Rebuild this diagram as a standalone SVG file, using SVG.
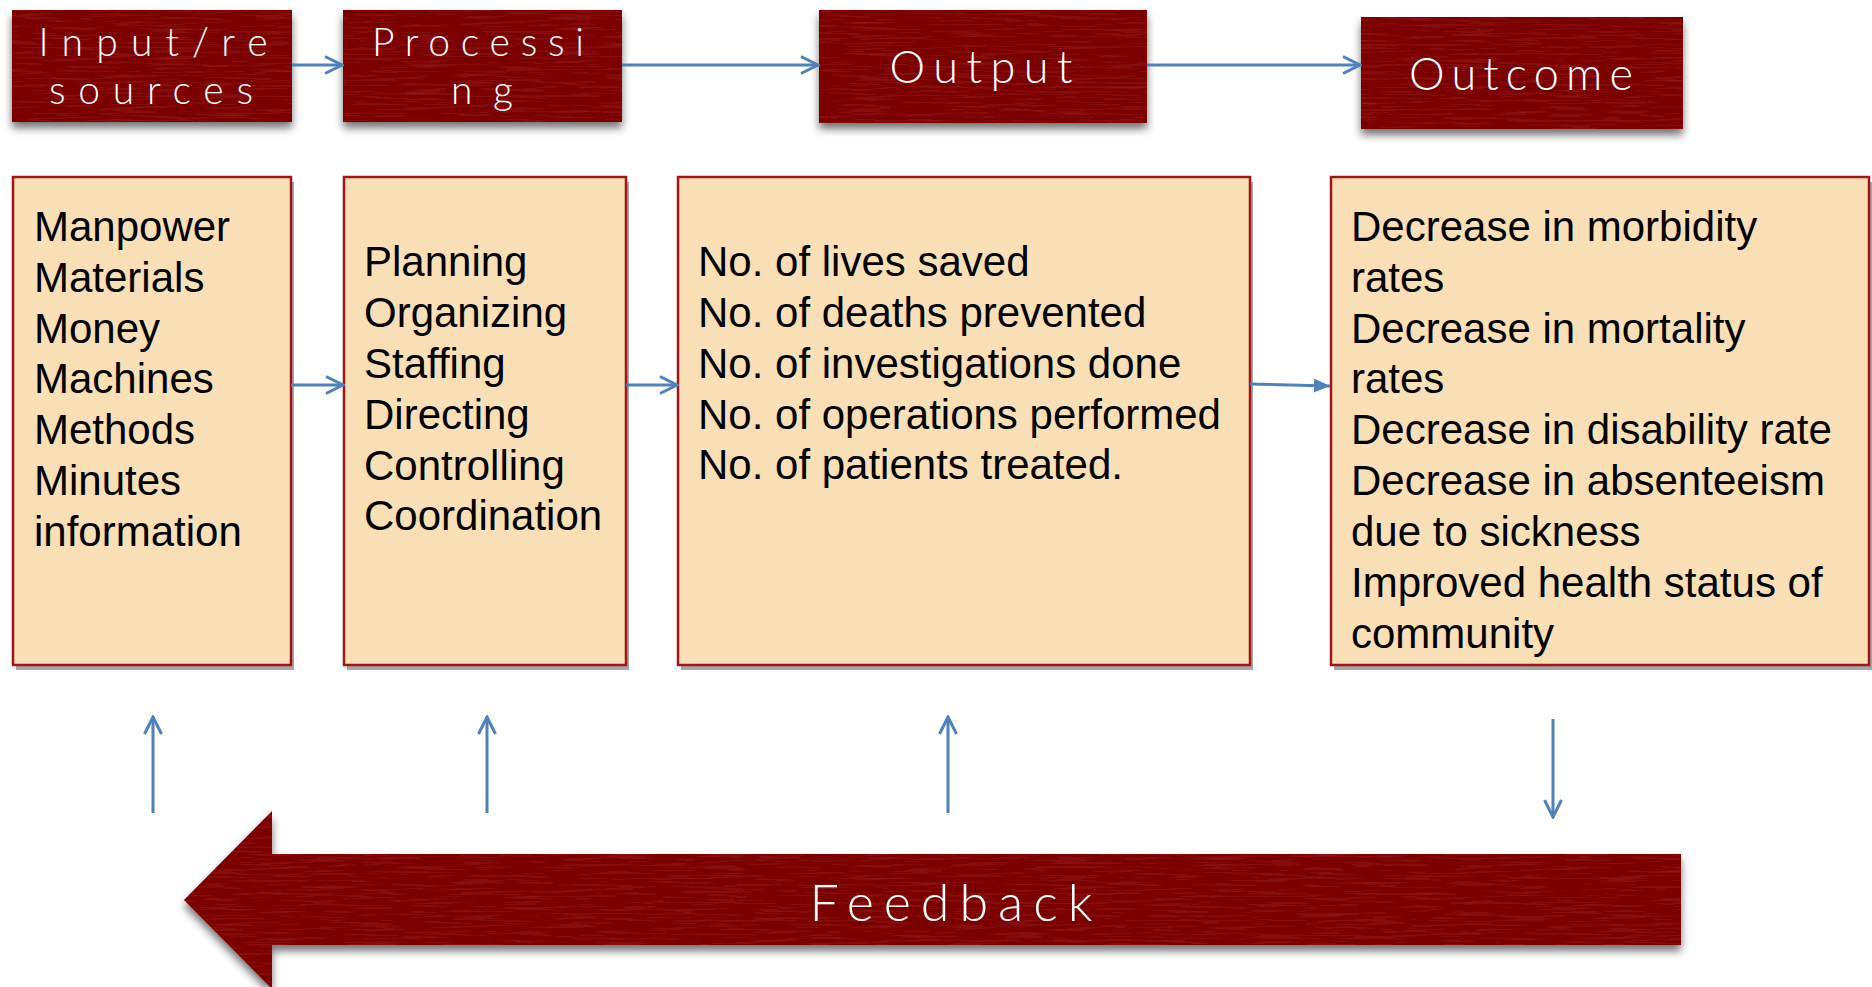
<svg xmlns="http://www.w3.org/2000/svg" width="1872" height="987" viewBox="0 0 1872 987">
  <style>
    .plate { fill: #7a0202; }
    .plate-label { font-family: "Lato", "Open Sans", "Liberation Sans", sans-serif; font-weight: 300; font-size: 45px; fill: #ffffff; text-anchor: middle; }
    .two-line { font-size: 39px; }
    .card { fill: #f9dfb6; stroke: #a0141a; stroke-width: 2.5; }
    .card-shadow { fill: #a6a6a6; }
    .item { font-family: "Liberation Sans", Arial, sans-serif; font-size: 42px; fill: #000000; }
    .link { stroke: #4f81bd; stroke-width: 3; fill: none; }
  </style>
  <defs>
    <!-- soft drop shadow plus faint horizontal grain for the maroon plates -->
    <filter id="plateFx" x="-10%" y="-20%" width="120%" height="160%">
      <feGaussianBlur in="SourceAlpha" stdDeviation="4"/>
      <feOffset dy="6" result="blur"/>
      <feFlood flood-color="#000000" flood-opacity="0.55"/>
      <feComposite in2="blur" operator="in" result="shadow"/>
      <feTurbulence type="fractalNoise" baseFrequency="0.02 0.45" numOctaves="2" seed="7" result="noise"/>
      <feColorMatrix in="noise" type="matrix" values="0 0 0 0 0.55  0 0 0 0 0.03  0 0 0 0 0.03  0.6 0 0 0 -0.28" result="streak"/>
      <feComposite in="streak" in2="SourceAlpha" operator="in" result="grain"/>
      <feMerge>
        <feMergeNode in="shadow"/>
        <feMergeNode in="SourceGraphic"/>
        <feMergeNode in="grain"/>
      </feMerge>
    </filter>
    <marker id="chevron" viewBox="0 0 22 20" refX="20" refY="10" markerWidth="22" markerHeight="20" markerUnits="userSpaceOnUse" orient="auto">
      <path d="M3,1.5 L20,10 L3,18.5" fill="none" stroke="#4f81bd" stroke-width="3" stroke-linejoin="miter"/>
    </marker>
    <marker id="solidhead" viewBox="0 0 20 20" refX="18" refY="10" markerWidth="20" markerHeight="20" markerUnits="userSpaceOnUse" orient="auto">
      <path d="M2,3 L18,10 L2,17 Z" fill="#4f81bd"/>
    </marker>
  </defs>

  <rect width="1872" height="987" fill="#ffffff"/>

  <!-- stage headers -->
  <g id="stage-input">
    <rect class="plate" x="12" y="10" width="280" height="112" filter="url(#plateFx)"/>
    <text class="plate-label two-line" x="153" y="56" textLength="229" lengthAdjust="spacing">Input/re</text>
    <text class="plate-label two-line" x="151" y="104" textLength="204" lengthAdjust="spacing">sources</text>
  </g>
  <g id="stage-processing">
    <rect class="plate" x="343" y="10" width="279" height="112" filter="url(#plateFx)"/>
    <text class="plate-label two-line" x="478" y="56" textLength="212" lengthAdjust="spacing">Processi</text>
    <text class="plate-label two-line" x="482" y="104" textLength="62" lengthAdjust="spacing">ng</text>
  </g>
  <g id="stage-output">
    <rect class="plate" x="819" y="10" width="328" height="113" filter="url(#plateFx)"/>
    <text class="plate-label" x="981" y="83" textLength="183" lengthAdjust="spacing">Output</text>
  </g>
  <g id="stage-outcome">
    <rect class="plate" x="1361" y="17" width="322" height="112" filter="url(#plateFx)"/>
    <text class="plate-label" x="1521" y="90" textLength="224" lengthAdjust="spacing">Outcome</text>
  </g>

  <!-- detail cards -->
  <g id="card-input">
    <rect class="card-shadow" x="16" y="182" width="278" height="488"/>
    <rect class="card" x="13" y="177" width="278" height="488"/>
    <text class="item" x="34" y="241">Manpower</text>
    <text class="item" x="34" y="292">Materials</text>
    <text class="item" x="34" y="343">Money</text>
    <text class="item" x="34" y="393">Machines</text>
    <text class="item" x="34" y="444">Methods</text>
    <text class="item" x="34" y="495">Minutes</text>
    <text class="item" x="34" y="546">information</text>
  </g>
  <g id="card-processing">
    <rect class="card-shadow" x="347" y="182" width="282" height="488"/>
    <rect class="card" x="344" y="177" width="282" height="488"/>
    <text class="item" x="364" y="276">Planning</text>
    <text class="item" x="364" y="327">Organizing</text>
    <text class="item" x="364" y="378">Staffing</text>
    <text class="item" x="364" y="429">Directing</text>
    <text class="item" x="364" y="480">Controlling</text>
    <text class="item" x="364" y="530">Coordination</text>
  </g>
  <g id="card-output">
    <rect class="card-shadow" x="681" y="182" width="572" height="488"/>
    <rect class="card" x="678" y="177" width="572" height="488"/>
    <text class="item" x="698" y="276">No. of lives saved</text>
    <text class="item" x="698" y="327">No. of deaths prevented</text>
    <text class="item" x="698" y="378">No. of investigations done</text>
    <text class="item" x="698" y="429">No. of operations performed</text>
    <text class="item" x="698" y="479">No. of patients treated.</text>
  </g>
  <g id="card-outcome">
    <rect class="card-shadow" x="1334" y="182" width="538" height="488"/>
    <rect class="card" x="1331" y="177" width="538" height="488"/>
    <text class="item" x="1351" y="241">Decrease in morbidity</text>
    <text class="item" x="1351" y="292">rates</text>
    <text class="item" x="1351" y="343">Decrease in mortality</text>
    <text class="item" x="1351" y="393">rates</text>
    <text class="item" x="1351" y="444">Decrease in disability rate</text>
    <text class="item" x="1351" y="495">Decrease in absenteeism</text>
    <text class="item" x="1351" y="546">due to sickness</text>
    <text class="item" x="1351" y="597">Improved health status of</text>
    <text class="item" x="1351" y="648">community</text>
  </g>

  <!-- feedback block arrow -->
  <g id="feedback">
    <polygon class="plate" points="184,900 272,811 272,854 1681,854 1681,945 272,945 272,989" filter="url(#plateFx)"/>
    <text class="plate-label" x="951" y="921" style="font-size:52px" textLength="283" lengthAdjust="spacing">Feedback</text>
  </g>

  <!-- connectors -->
  <g id="connectors">
    <line class="link" x1="292" y1="65" x2="342" y2="65" marker-end="url(#chevron)"/>
    <line class="link" x1="622" y1="65" x2="818" y2="65" marker-end="url(#chevron)"/>
    <line class="link" x1="1147" y1="65" x2="1360" y2="65" marker-end="url(#chevron)"/>
    <line class="link" x1="291" y1="385" x2="343" y2="385" marker-end="url(#chevron)"/>
    <line class="link" x1="626" y1="385" x2="677" y2="385" marker-end="url(#chevron)"/>
    <line class="link" x1="1250" y1="384" x2="1330" y2="386" marker-end="url(#solidhead)"/>
    <line class="link" x1="153" y1="813" x2="153" y2="717" marker-end="url(#chevron)"/>
    <line class="link" x1="487" y1="813" x2="487" y2="717" marker-end="url(#chevron)"/>
    <line class="link" x1="948" y1="813" x2="948" y2="717" marker-end="url(#chevron)"/>
    <line class="link" x1="1553" y1="719" x2="1553" y2="817" marker-end="url(#chevron)"/>
  </g>
</svg>
